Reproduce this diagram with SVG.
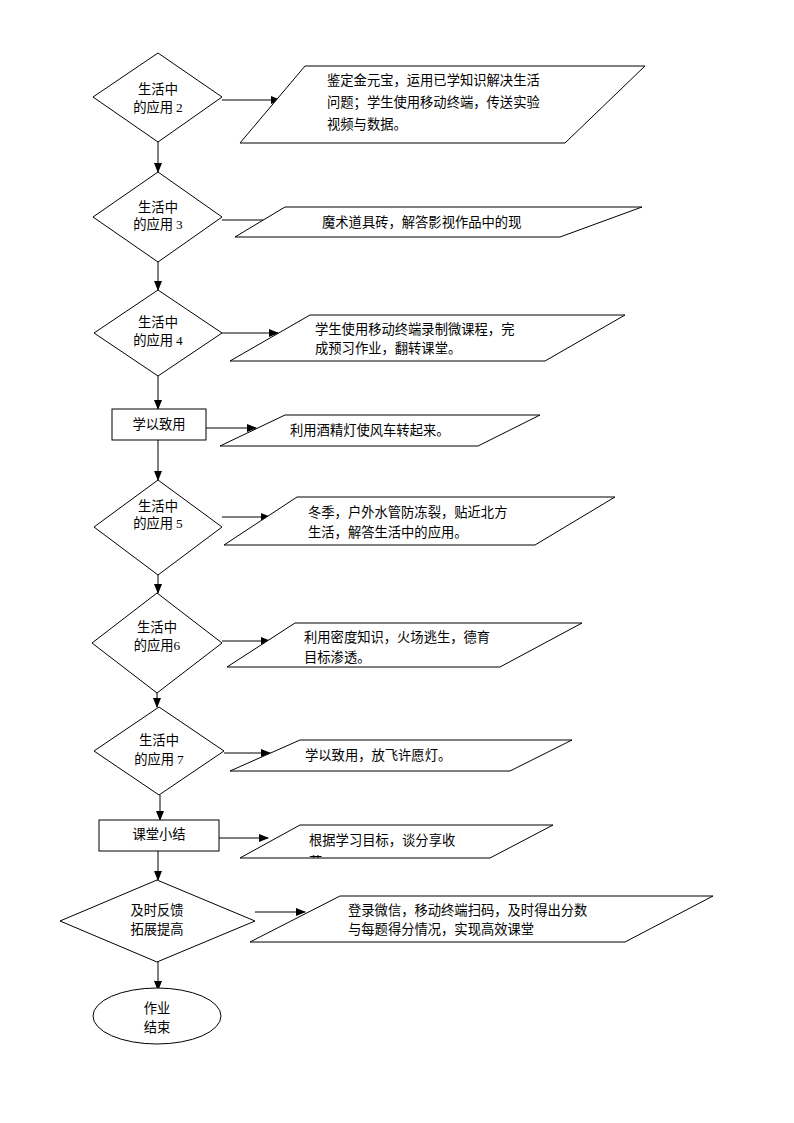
<svg xmlns="http://www.w3.org/2000/svg" width="794" height="1123" viewBox="0 0 794 1123">
<defs>
<marker id="ah" markerWidth="10" markerHeight="8" refX="9" refY="4" orient="auto" markerUnits="userSpaceOnUse">
<path d="M0,0 L10,4 L0,8 Z" fill="#000"/>
</marker>
<clipPath id="clip8"><polygon points="300,825 553,825 490,858 240,858"/></clipPath>
</defs>
<style>
.s{fill:#fff;stroke:#000;stroke-width:1}
.t{font-family:"Noto Sans CJK SC","Noto Sans CJK JP",sans-serif;font-size:13.3px;fill:#000}
.m{text-anchor:middle}
.n{font-family:"Liberation Serif",serif}
.c{fill:none;stroke:#000;stroke-width:1;marker-end:url(#ah)}
</style>
<rect width="794" height="1123" fill="#fff"/>
<g id="connectors">
<path class="c" d="M222,100 H280"/>
<path class="c" d="M158,142 V172"/>
<path class="c" d="M222,220 H278"/>
<path class="c" d="M158,262 V290"/>
<path class="c" d="M222,333 H278"/>
<path class="c" d="M158,376 V409"/>
<path class="c" d="M206,428 H256"/>
<path class="c" d="M158,440 V480"/>
<path class="c" d="M222,517 H270"/>
<path class="c" d="M158,575 V593"/>
<path class="c" d="M222,641 H270"/>
<path class="c" d="M157,693 V707"/>
<path class="c" d="M224,753 H270"/>
<path class="c" d="M160,795 V820"/>
<path class="c" d="M219,838 H268"/>
<path class="c" d="M158,851 V880"/>
<path class="c" d="M255,912 H305"/>
<path class="c" d="M158,962 V990"/>
</g>
<g id="d2"><polygon class="s" points="158,53 222,97 158,142 93,97"/>
<text class="t m" x="158" y="94">生活中</text><text class="t m" x="158" y="112">的应用 <tspan class="n">2</tspan></text></g>
<g id="p1"><polygon class="s" points="305,66 645,66 565,143 240,143"/>
<text class="t" x="327" y="85">鉴定金元宝，运用已学知识解决生活</text>
<text class="t" x="327" y="107">问题；学生使用移动终端，传送实验</text>
<text class="t" x="327" y="129">视频与数据。</text></g>
<g id="d3"><polygon class="s" points="158,172 222,217 158,262 93,217"/>
<text class="t m" x="158" y="212">生活中</text><text class="t m" x="158" y="229">的应用 <tspan class="n">3</tspan></text></g>
<g id="p2"><polygon class="s" points="285,207 642,207 560,237 235,237"/>
<text class="t" x="322" y="227">魔术道具砖，解答影视作品中的现</text></g>
<g id="d4"><polygon class="s" points="158,290 222,333 158,376 94,333"/>
<text class="t m" x="158" y="327">生活中</text><text class="t m" x="158" y="345">的应用 <tspan class="n">4</tspan></text></g>
<g id="p3"><polygon class="s" points="310,315 625,315 545,361 230,361"/>
<text class="t" x="315" y="334">学生使用移动终端录制微课程，完</text>
<text class="t" x="315" y="353">成预习作业，翻转课堂。</text></g>
<g id="r1"><rect class="s" x="112" y="409" width="94" height="31"/>
<text class="t m" x="159" y="429">学以致用</text></g>
<g id="p4"><polygon class="s" points="285,415 540,415 478,446 220,446"/>
<text class="t" x="290" y="435">利用酒精灯使风车转起来。</text></g>
<g id="d5"><polygon class="s" points="158,480 222,527 158,575 94,527"/>
<text class="t m" x="158" y="511">生活中</text><text class="t m" x="158" y="528">的应用 <tspan class="n">5</tspan></text></g>
<g id="p5"><polygon class="s" points="297,497 615,497 535,545 224,545"/>
<text class="t" x="308" y="517">冬季，户外水管防冻裂，贴近北方</text>
<text class="t" x="308" y="537">生活，解答生活中的应用。</text></g>
<g id="d6"><polygon class="s" points="157,593 222,643 157,693 92,643"/>
<text class="t m" x="157" y="632">生活中</text><text class="t m" x="157" y="650">的应用<tspan class="n">6</tspan></text></g>
<g id="p6"><polygon class="s" points="295,623 582,623 500,667 227,667"/>
<text class="t" x="304" y="642">利用密度知识，火场逃生，德育</text>
<text class="t" x="304" y="662">目标渗透。</text></g>
<g id="d7"><polygon class="s" points="159,707 224,751 159,795 94,751"/>
<text class="t m" x="159" y="745">生活中</text><text class="t m" x="159" y="764">的应用 <tspan class="n">7</tspan></text></g>
<g id="p7"><polygon class="s" points="300,740 572,740 510,771 230,771"/>
<text class="t" x="305" y="760">学以致用，放飞许愿灯。</text></g>
<g id="r2"><rect class="s" x="99" y="820" width="120" height="31"/>
<text class="t m" x="159" y="839">课堂小结</text></g>
<g id="p8"><polygon class="s" points="300,825 553,825 490,858 240,858"/>
<g clip-path="url(#clip8)"><text class="t" x="309" y="845">根据学习目标，谈分享收</text>
<text class="t" x="309" y="867">获</text></g></g>
<g id="d8"><polygon class="s" points="157,880 255,921 157,962 60,921"/>
<text class="t m" x="157" y="915">及时反馈</text><text class="t m" x="157" y="934">拓展提高</text></g>
<g id="p9"><polygon class="s" points="340,896 713,896 625,942 250,942"/>
<text class="t" x="348" y="915">登录微信，移动终端扫码，及时得出分数</text>
<text class="t" x="348" y="934">与每题得分情况，实现高效课堂</text></g>
<g id="e1"><ellipse class="s" cx="157" cy="1016" rx="64" ry="28"/>
<text class="t m" x="157" y="1013">作业</text><text class="t m" x="157" y="1032">结束</text></g>
</svg>
